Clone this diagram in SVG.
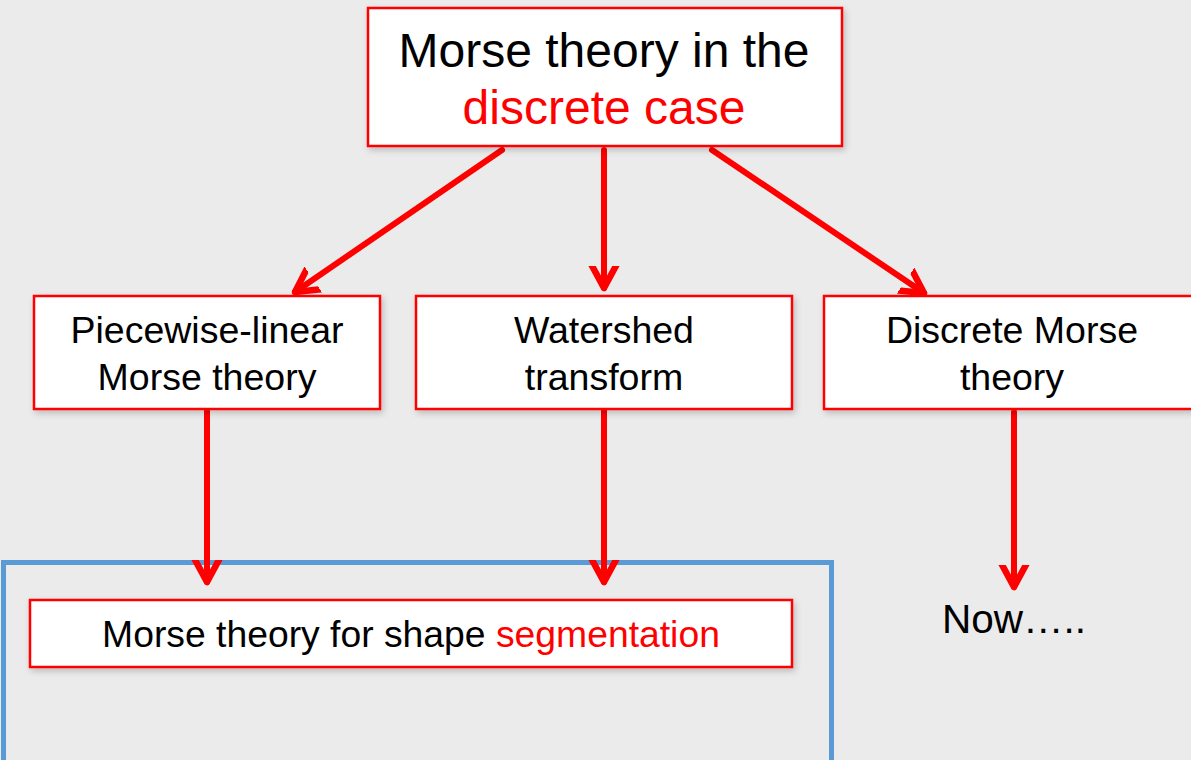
<svg xmlns="http://www.w3.org/2000/svg" width="1191" height="760" viewBox="0 0 1191 760">
  <style>
    .box { fill: #ffffff; stroke: #ff0000; stroke-width: 2.5; filter: url(#shadow); }
    .txt { font-family: "Liberation Sans", Arial, sans-serif; fill: #000000; text-anchor: middle; }
    .red { fill: #ff0000; }
    .conn { stroke: #ff0000; stroke-width: 6; fill: none; stroke-linecap: round; marker-end: url(#chevron); }
  </style>
  <defs>
    <filter id="shadow" x="-10%" y="-10%" width="120%" height="130%">
      <feDropShadow dx="2" dy="3" stdDeviation="3" flood-color="#000000" flood-opacity="0.2"/>
    </filter>
    <marker id="chevron" markerUnits="userSpaceOnUse" markerWidth="44" markerHeight="44" viewBox="-22 -22 44 44" refX="0" refY="0" orient="auto">
      <path d="M-25,-13.5 L0,0 L-25,13.5" fill="none" stroke="#ff0000" stroke-width="6.5" stroke-linecap="round" stroke-linejoin="round"/>
    </marker>
  </defs>

  <rect x="0" y="0" width="1191" height="760" fill="#ebebeb"/>

  <!-- grouping frame around the segmentation branch -->
  <g id="segmentation-frame">
    <rect x="3.5" y="562.5" width="828" height="210" fill="none" stroke="#5b9bd5" stroke-width="5"/>
  </g>

  <g id="connectors">
    <line class="conn" x1="502" y1="150" x2="295" y2="292"/>
    <line class="conn" x1="604" y1="150" x2="604" y2="288"/>
    <line class="conn" x1="712" y1="150" x2="924" y2="293"/>
    <line class="conn" x1="207" y1="410" x2="207" y2="582"/>
    <line class="conn" x1="604" y1="410" x2="604" y2="582"/>
    <line class="conn" x1="1014" y1="412" x2="1014" y2="587"/>
  </g>

  <g id="discrete-case">
    <rect class="box" x="368" y="8" width="474" height="138"/>
    <text class="txt" x="604" y="67" font-size="48">Morse theory in the</text>
    <text class="txt red" x="604" y="124" font-size="48">discrete case</text>
  </g>

  <g id="pl-morse">
    <rect class="box" x="34" y="296" width="346" height="113"/>
    <text class="txt" x="207" y="343" font-size="37.5">Piecewise-linear</text>
    <text class="txt" x="207" y="390" font-size="37.5">Morse theory</text>
  </g>

  <g id="watershed">
    <rect class="box" x="416" y="296" width="376" height="113"/>
    <text class="txt" x="604" y="343" font-size="37.5">Watershed</text>
    <text class="txt" x="604" y="390" font-size="37.5">transform</text>
  </g>

  <g id="discrete-morse">
    <rect class="box" x="824" y="296" width="380" height="113"/>
    <text class="txt" x="1012" y="343" font-size="37.5">Discrete Morse</text>
    <text class="txt" x="1012" y="390" font-size="37.5">theory</text>
  </g>

  <g id="shape-segmentation">
    <rect class="box" x="30" y="600" width="762" height="67"/>
    <text class="txt" x="411" y="647" font-size="37.3">Morse theory for shape <tspan class="red">segmentation</tspan></text>
  </g>

  <g id="now">
    <text class="txt" x="1014" y="633" font-size="40.5">Now…..</text>
  </g>
</svg>
